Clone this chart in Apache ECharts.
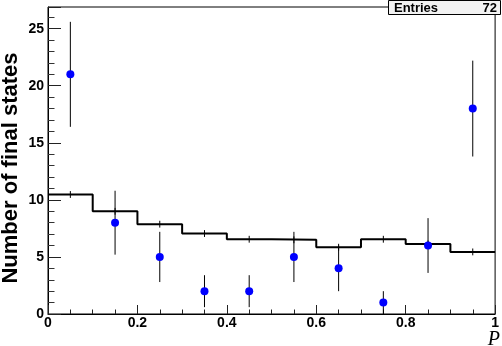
<!DOCTYPE html>
<html>
<head>
<meta charset="utf-8">
<script src="https://cdn.jsdelivr.net/npm/echarts@6/dist/echarts.min.js"></script>
<style>
  html, body { margin: 0; padding: 0; background: #fff; }
  #chart { width: 502px; height: 346px; }
</style>
</head>
<body>
<div id="chart"></div>
<script>
// data points (blue) and their errors
const binCenters = [0.05, 0.15, 0.25, 0.35, 0.45, 0.55, 0.65, 0.75, 0.85, 0.95];
const dataCounts = [21, 8, 5, 2, 2, 5, 4, 1, 6, 18];
const dataErrors = [4.6, 2.8, 2.2, 1.4, 1.4, 2.2, 2.0, 1.0, 2.4, 4.2];
// reference histogram (black steps)
const binEdges = [0, 0.1, 0.2, 0.3, 0.4, 0.5, 0.6, 0.7, 0.8, 0.9, 1.0];
const histValues = [10.47, 9.0, 7.87, 7.05, 6.55, 6.5, 5.85, 6.55, 6.14, 5.44];
const histErrors = [0.3, 0.3, 0.3, 0.3, 0.3, 0.3, 0.3, 0.3, 0.3, 0.3];
const entries = 72;

const font = "'Liberation Sans', Arial, sans-serif";

let stepData = binEdges.map((e, i) => [e, histValues[Math.min(i, histValues.length - 1)]]);
let pointData = binCenters.map((x, i) => [x, dataCounts[i]]);
let pointErr = binCenters.map((x, i) => [x, dataCounts[i] - dataErrors[i], dataCounts[i] + dataErrors[i]]);
let histErr = binCenters.map((x, i) => [x, histValues[i] - histErrors[i], histValues[i] + histErrors[i]]);

const errorBar = (params, api) => {
  let lo = api.coord([api.value(0), api.value(1)]);
  let hi = api.coord([api.value(0), api.value(2)]);
  return {
    type: 'line',
    shape: { x1: lo[0], y1: lo[1], x2: hi[0], y2: hi[1] },
    style: { stroke: '#000', lineWidth: 1 },
  };
};

let myChart = echarts.init(document.getElementById('chart'));
let option = {
  animation: false,
  grid: { left: 48, right: 1, top: 7, bottom: 32, show: true, borderColor: '#000', borderWidth: 1 },
  xAxis: {
    type: 'value',
    min: 0,
    max: 1,
    interval: 0.2,
    splitLine: { show: false },
    axisLine: { lineStyle: { color: '#000' } },
    axisTick: { inside: true, length: 9, lineStyle: { color: '#222' } },
    minorTick: { show: true, splitNumber: 4, length: 4.5, lineStyle: { color: '#222' } },
    axisLabel: { color: '#000', fontFamily: font, fontWeight: 'bold', fontSize: 14, margin: 2 },
  },
  yAxis: [
    {
      type: 'value',
      min: 0,
      max: 26.9,
      interval: 1,
      splitLine: { show: false },
      axisLine: { lineStyle: { color: '#000' } },
      axisTick: { inside: true, length: 6.5, lineStyle: { color: '#333' } },
      axisLabel: {
        color: '#000', fontFamily: font, fontWeight: 'bold', fontSize: 14, margin: 4,
        formatter: (v) => (v % 5 === 0 ? String(v) : ''),
      },
    },
    {
      type: 'value',
      position: 'left',
      min: 0,
      max: 26.9,
      interval: 5,
      splitLine: { show: false },
      axisLine: { show: false },
      axisTick: { inside: true, length: 13, lineStyle: { color: '#222' } },
      axisLabel: { show: false },
    },
  ],
  series: [
    {
      type: 'line',
      step: 'end',
      data: stepData,
      showSymbol: false,
      lineStyle: { color: '#000', width: 2 },
      z: 2,
    },
    { type: 'custom', data: histErr, renderItem: errorBar, z: 3 },
    { type: 'custom', data: pointErr, renderItem: errorBar, z: 3 },
    {
      type: 'scatter',
      data: pointData,
      symbolSize: 8,
      itemStyle: { color: '#0000ff', opacity: 1 },
      z: 4,
    },
  ],
  graphic: [
    {
      type: 'text',
      x: 11,
      y: 168,
      rotation: Math.PI / 2,
      style: {
        text: 'Number of final states',
        fontFamily: font, fontWeight: 'bold', fontSize: 22,
        fill: '#000', align: 'center', verticalAlign: 'middle',
      },
    },
    {
      type: 'text',
      x: 500,
      y: 350,
      style: {
        text: 'P',
        fontFamily: "'Liberation Serif', 'Times New Roman', serif", fontStyle: 'italic', fontSize: 20,
        fill: '#000', align: 'right', verticalAlign: 'bottom',
      },
    },
    {
      type: 'rect',
      shape: { x: 388.5, y: 0.5, width: 112, height: 14 },
      style: { fill: '#f2f2f2', stroke: '#000', lineWidth: 1 },
      z: 10,
    },
    {
      type: 'text', x: 394, y: 8, z: 11,
      style: { text: 'Entries', fontFamily: font, fontWeight: 'bold', fontSize: 13, fill: '#000', verticalAlign: 'middle' },
    },
    {
      type: 'text', x: 497, y: 8, z: 11,
      style: { text: String(entries), fontFamily: font, fontWeight: 'bold', fontSize: 13, fill: '#000', align: 'right', verticalAlign: 'middle' },
    },
  ],
};
myChart.setOption(option);
</script>
</body>
</html>
